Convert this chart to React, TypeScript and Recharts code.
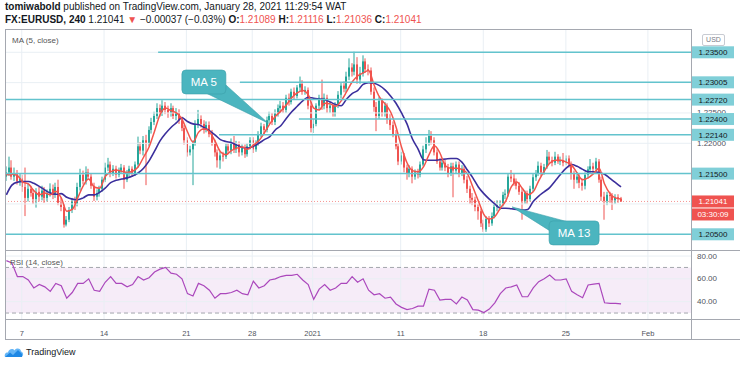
import React from 'react';
import {
  ComposedChart,
  Bar,
  Line,
  XAxis,
  YAxis,
  ReferenceLine,
  ReferenceArea,
  ReferenceDot,
} from 'recharts';

// FX:EURUSD 4h candles, Dec 4 2020 - Jan 28 2021, one entry per bar
const opens = [
  1.2145, 1.2152, 1.2160, 1.2145, 1.2150, 1.2138, 1.2142, 1.2128, 1.2110, 1.2125,
  1.2118, 1.2108, 1.2120, 1.2112, 1.2122, 1.2110, 1.2118, 1.2125, 1.2115, 1.2128,
  1.2102, 1.2095, 1.2066, 1.2074, 1.2090, 1.2104, 1.2100, 1.2128, 1.2148, 1.2138,
  1.2152, 1.2145, 1.2130, 1.2112, 1.2118, 1.2125, 1.2140, 1.2160, 1.2165, 1.2150,
  1.2158, 1.2148, 1.2155, 1.2160, 1.2140, 1.2152, 1.2158, 1.2150, 1.2165, 1.2195,
  1.2188, 1.2205, 1.2200, 1.2222, 1.2235, 1.2245, 1.2258, 1.2250, 1.2262, 1.2255,
  1.2250, 1.2258, 1.2245, 1.2250, 1.2238, 1.2225, 1.2205, 1.2185, 1.2190, 1.2200,
  1.2230, 1.2240, 1.2232, 1.2222, 1.2230, 1.2215, 1.2200, 1.2185, 1.2172, 1.2180,
  1.2178, 1.2195, 1.2188, 1.2200, 1.2190, 1.2198, 1.2185, 1.2192, 1.2182, 1.2195,
  1.2205, 1.2190, 1.2200, 1.2215, 1.2228, 1.2222, 1.2238, 1.2245, 1.2235, 1.2250,
  1.2258, 1.2262, 1.2255, 1.2275, 1.2268, 1.2285, 1.2278, 1.2292, 1.2298, 1.2285,
  1.2288, 1.2262, 1.2225, 1.2232, 1.2262, 1.2275, 1.2262, 1.2275, 1.2258, 1.2262,
  1.2250, 1.2262, 1.2280, 1.2295, 1.2290, 1.2310, 1.2325, 1.2318, 1.2330, 1.2305,
  1.2315, 1.2335, 1.2322, 1.2320, 1.2285, 1.2260, 1.2245, 1.2270, 1.2250, 1.2262,
  1.2240, 1.2230, 1.2215, 1.2195, 1.2170, 1.2180, 1.2160, 1.2150, 1.2158, 1.2145,
  1.2152, 1.2148, 1.2165, 1.2190, 1.2200, 1.2212, 1.2205, 1.2185, 1.2170, 1.2160,
  1.2168, 1.2160, 1.2150, 1.2162, 1.2155, 1.2165, 1.2150, 1.2158, 1.2140, 1.2125,
  1.2110, 1.2107, 1.2095, 1.2088, 1.2068, 1.2058, 1.2075, 1.2068, 1.2080, 1.2095,
  1.2098, 1.2100, 1.2115, 1.2117, 1.2145, 1.2142, 1.2135, 1.2130, 1.2120, 1.2105,
  1.2118, 1.2108, 1.2125, 1.2144, 1.2150, 1.2163, 1.2152, 1.2161, 1.2178, 1.2172,
  1.2168, 1.2178, 1.2170, 1.2172, 1.2168, 1.2175, 1.2165, 1.2150, 1.2140, 1.2145,
  1.2135, 1.2130, 1.2148, 1.2157, 1.2162, 1.2158, 1.2170, 1.2140, 1.2112, 1.2105,
  1.2115, 1.2113, 1.2106, 1.2111, 1.21089,
];
const highs = [
  1.2162, 1.2178, 1.2172, 1.2160, 1.2156, 1.2150, 1.2148, 1.2160, 1.2134, 1.2130,
  1.2124, 1.2126, 1.2128, 1.2130, 1.2128, 1.2124, 1.2134, 1.2132, 1.2135, 1.2140,
  1.2110, 1.2100, 1.2080, 1.2095, 1.2110, 1.2112, 1.2135, 1.2158, 1.2155, 1.2162,
  1.2158, 1.2150, 1.2135, 1.2124, 1.2130, 1.2145, 1.2168, 1.2176, 1.2170, 1.2164,
  1.2163, 1.2160, 1.2166, 1.2164, 1.2156, 1.2163, 1.2162, 1.2170, 1.2211, 1.2202,
  1.2212, 1.2214, 1.2228, 1.2242, 1.2252, 1.2266, 1.2264, 1.2271, 1.2268, 1.2262,
  1.2266, 1.2262, 1.2258, 1.2256, 1.2244, 1.2230, 1.2210, 1.2196, 1.2205, 1.2238,
  1.2255, 1.2246, 1.2238, 1.2236, 1.2236, 1.2222, 1.2206, 1.2190, 1.2186, 1.2186,
  1.2200, 1.2200, 1.2208, 1.2212, 1.2204, 1.2203, 1.2198, 1.2198, 1.2200, 1.2210,
  1.2210, 1.2205, 1.2220, 1.2234, 1.2232, 1.2244, 1.2252, 1.2250, 1.2256, 1.2264,
  1.2270, 1.2268, 1.2280, 1.2282, 1.2290, 1.2292, 1.2296, 1.2310, 1.2304, 1.2294,
  1.2292, 1.2268, 1.2240, 1.2266, 1.2280, 1.2305, 1.2282, 1.2280, 1.2268, 1.2266,
  1.2268, 1.2286, 1.2300, 1.2302, 1.2318, 1.2340, 1.2332, 1.2351, 1.2342, 1.2326,
  1.2345, 1.2340, 1.2330, 1.2325, 1.2292, 1.2268, 1.2276, 1.2274, 1.2268, 1.2266,
  1.2248, 1.2236, 1.2222, 1.2200, 1.2186, 1.2184, 1.2165, 1.2164, 1.2162, 1.2157,
  1.2158, 1.2170, 1.2196, 1.2210, 1.2222, 1.2220, 1.2210, 1.2190, 1.2176, 1.2174,
  1.2174, 1.2166, 1.2168, 1.2168, 1.2170, 1.2170, 1.2164, 1.2162, 1.2146, 1.2130,
  1.2118, 1.2112, 1.2100, 1.2092, 1.2074, 1.2080, 1.2080, 1.2086, 1.2100, 1.2106,
  1.2106, 1.2120, 1.2124, 1.2150, 1.2156, 1.2150, 1.2142, 1.2136, 1.2126, 1.2122,
  1.2122, 1.2130, 1.2150, 1.2156, 1.2170, 1.2168, 1.2166, 1.2189, 1.2186, 1.2178,
  1.2186, 1.2182, 1.2178, 1.2184, 1.2180, 1.2180, 1.2170, 1.2155, 1.2152, 1.2150,
  1.2142, 1.2152, 1.2162, 1.2174, 1.2168, 1.2176, 1.2174, 1.2145, 1.2120, 1.2120,
  1.2120, 1.2118, 1.2116, 1.2116, 1.21116,
];
const lows = [
  1.2138, 1.2146, 1.2140, 1.2138, 1.2132, 1.2130, 1.2120, 1.2080, 1.2104, 1.2112,
  1.2100, 1.2094, 1.2104, 1.2106, 1.2102, 1.2104, 1.2112, 1.2108, 1.2110, 1.2098,
  1.2088, 1.2061, 1.2063, 1.2070, 1.2085, 1.2090, 1.2096, 1.2122, 1.2132, 1.2132,
  1.2140, 1.2125, 1.2105, 1.2106, 1.2112, 1.2120, 1.2136, 1.2154, 1.2144, 1.2146,
  1.2142, 1.2144, 1.2150, 1.2125, 1.2136, 1.2146, 1.2145, 1.2146, 1.2160, 1.2182,
  1.2180, 1.2131, 1.2195, 1.2216, 1.2230, 1.2240, 1.2244, 1.2245, 1.2248, 1.2242,
  1.2244, 1.2240, 1.2238, 1.2232, 1.2220, 1.2198, 1.2178, 1.2180, 1.2131, 1.2196,
  1.2225, 1.2226, 1.2216, 1.2218, 1.2210, 1.2196, 1.2178, 1.2160, 1.2158, 1.2170,
  1.2174, 1.2182, 1.2182, 1.2184, 1.2184, 1.2178, 1.2180, 1.2176, 1.2178, 1.2190,
  1.2184, 1.2186, 1.2196, 1.2210, 1.2216, 1.2218, 1.2232, 1.2230, 1.2230, 1.2244,
  1.2250, 1.2250, 1.2250, 1.2262, 1.2264, 1.2272, 1.2274, 1.2286, 1.2280, 1.2280,
  1.2256, 1.2218, 1.2217, 1.2228, 1.2256, 1.2255, 1.2256, 1.2250, 1.2250, 1.2244,
  1.2244, 1.2258, 1.2274, 1.2284, 1.2284, 1.2304, 1.2310, 1.2312, 1.2298, 1.2298,
  1.2310, 1.2316, 1.2312, 1.2280, 1.2252, 1.2220, 1.2240, 1.2244, 1.2244, 1.2232,
  1.2222, 1.2210, 1.2190, 1.2164, 1.2165, 1.2152, 1.2140, 1.2144, 1.2134, 1.2140,
  1.2142, 1.2144, 1.2162, 1.2184, 1.2196, 1.2198, 1.2180, 1.2166, 1.2155, 1.2155,
  1.2154, 1.2144, 1.2146, 1.2111, 1.2150, 1.2144, 1.2146, 1.2134, 1.2118, 1.2100,
  1.2098, 1.2088, 1.2074, 1.2062, 1.2054, 1.2054, 1.2062, 1.2064, 1.2076, 1.2088,
  1.2090, 1.2096, 1.2108, 1.2112, 1.2136, 1.2130, 1.2124, 1.2115, 1.2074, 1.2100,
  1.2100, 1.2104, 1.2120, 1.2138, 1.2146, 1.2146, 1.2148, 1.2158, 1.2166, 1.2162,
  1.2164, 1.2166, 1.2164, 1.2162, 1.2164, 1.2160, 1.2140, 1.2125, 1.2134, 1.2126,
  1.2122, 1.2124, 1.2142, 1.2150, 1.2150, 1.2154, 1.2135, 1.2105, 1.2074, 1.2098,
  1.2102, 1.2090, 1.2100, 1.2102, 1.21036,
];
const closes = [
  1.2152, 1.2160, 1.2145, 1.2150, 1.2138, 1.2142, 1.2128, 1.2110, 1.2125, 1.2118,
  1.2108, 1.2120, 1.2112, 1.2122, 1.2110, 1.2118, 1.2125, 1.2115, 1.2128, 1.2102,
  1.2095, 1.2066, 1.2074, 1.2090, 1.2104, 1.2100, 1.2128, 1.2148, 1.2138, 1.2152,
  1.2145, 1.2130, 1.2112, 1.2118, 1.2125, 1.2140, 1.2160, 1.2165, 1.2150, 1.2158,
  1.2148, 1.2155, 1.2160, 1.2140, 1.2152, 1.2158, 1.2150, 1.2165, 1.2195, 1.2188,
  1.2205, 1.2200, 1.2222, 1.2235, 1.2245, 1.2258, 1.2250, 1.2262, 1.2255, 1.2250,
  1.2258, 1.2245, 1.2250, 1.2238, 1.2225, 1.2205, 1.2185, 1.2190, 1.2200, 1.2230,
  1.2240, 1.2232, 1.2222, 1.2230, 1.2215, 1.2200, 1.2185, 1.2172, 1.2180, 1.2178,
  1.2195, 1.2188, 1.2200, 1.2190, 1.2198, 1.2185, 1.2192, 1.2182, 1.2195, 1.2205,
  1.2190, 1.2200, 1.2215, 1.2228, 1.2222, 1.2238, 1.2245, 1.2235, 1.2250, 1.2258,
  1.2262, 1.2255, 1.2275, 1.2268, 1.2285, 1.2278, 1.2292, 1.2298, 1.2285, 1.2288,
  1.2262, 1.2225, 1.2232, 1.2262, 1.2275, 1.2262, 1.2275, 1.2258, 1.2262, 1.2250,
  1.2262, 1.2280, 1.2295, 1.2290, 1.2310, 1.2325, 1.2318, 1.2330, 1.2305, 1.2315,
  1.2335, 1.2322, 1.2320, 1.2285, 1.2260, 1.2245, 1.2270, 1.2250, 1.2262, 1.2240,
  1.2230, 1.2215, 1.2195, 1.2170, 1.2180, 1.2160, 1.2150, 1.2158, 1.2145, 1.2152,
  1.2148, 1.2165, 1.2190, 1.2200, 1.2212, 1.2205, 1.2185, 1.2170, 1.2160, 1.2168,
  1.2160, 1.2150, 1.2162, 1.2155, 1.2165, 1.2150, 1.2158, 1.2140, 1.2125, 1.2110,
  1.2107, 1.2095, 1.2088, 1.2068, 1.2058, 1.2075, 1.2068, 1.2080, 1.2095, 1.2098,
  1.2100, 1.2115, 1.2117, 1.2145, 1.2142, 1.2135, 1.2130, 1.2120, 1.2105, 1.2118,
  1.2108, 1.2125, 1.2144, 1.2150, 1.2163, 1.2152, 1.2161, 1.2178, 1.2172, 1.2168,
  1.2178, 1.2170, 1.2172, 1.2168, 1.2175, 1.2165, 1.2150, 1.2140, 1.2145, 1.2135,
  1.2130, 1.2148, 1.2157, 1.2162, 1.2158, 1.2170, 1.2140, 1.2112, 1.2105, 1.2115,
  1.2113, 1.2106, 1.2111, 1.21089, 1.21041,
];

// indicator readings, one value every second bar
const ma5 = [
  1.2148, 1.2149, 1.2147, 1.2136, 1.2133, 1.2122, 1.2115, 1.2118, 1.2115, 1.2121,
  1.2110, 1.2088, 1.2091, 1.2110, 1.2130, 1.2141, 1.2128, 1.2126, 1.2145, 1.2153,
  1.2156, 1.2154, 1.2152, 1.2154, 1.2161, 1.2177, 1.2194, 1.2220, 1.2247, 1.2258,
  1.2254, 1.2250, 1.2240, 1.2219, 1.2202, 1.2218, 1.2224, 1.2219, 1.2204, 1.2186,
  1.2181, 1.2188, 1.2192, 1.2194, 1.2190, 1.2197, 1.2204, 1.2217, 1.2232, 1.2244,
  1.2253, 1.2263, 1.2275, 1.2283, 1.2287, 1.2280, 1.2258, 1.2255, 1.2266, 1.2265,
  1.2261, 1.2270, 1.2285, 1.2301, 1.2311, 1.2316, 1.2320, 1.2296, 1.2276, 1.2265,
  1.2252, 1.2227, 1.2194, 1.2168, 1.2155, 1.2153, 1.2161, 1.2181, 1.2196, 1.2184,
  1.2163, 1.2159, 1.2159, 1.2157, 1.2150, 1.2128, 1.2105, 1.2083, 1.2075, 1.2079,
  1.2093, 1.2105, 1.2128, 1.2136, 1.2126, 1.2115, 1.2120, 1.2138, 1.2154, 1.2167,
  1.2172, 1.2172, 1.2169, 1.2164, 1.2151, 1.2140, 1.2143, 1.2150, 1.2159, 1.2133,
  1.2117, 1.2110, 1.2108,
];
const ma13 = [
  1.2115, 1.2131, 1.2136, 1.2137, 1.2137, 1.2134, 1.2129, 1.2123, 1.2118, 1.2116,
  1.2117, 1.2111, 1.2108, 1.2107, 1.2110, 1.2115, 1.2115, 1.2119, 1.2126, 1.2135,
  1.2139, 1.2141, 1.2143, 1.2146, 1.2151, 1.2159, 1.2171, 1.2187, 1.2204, 1.2216,
  1.2226, 1.2234, 1.2242, 1.2236, 1.2232, 1.2231, 1.2226, 1.2221, 1.2214, 1.2206,
  1.2203, 1.2201, 1.2197, 1.2193, 1.2192, 1.2195, 1.2200, 1.2206, 1.2211, 1.2222,
  1.2229, 1.2241, 1.2252, 1.2261, 1.2270, 1.2276, 1.2274, 1.2273, 1.2272, 1.2268,
  1.2264, 1.2262, 1.2273, 1.2282, 1.2287, 1.2297, 1.2300, 1.2299, 1.2295, 1.2288,
  1.2278, 1.2266, 1.2250, 1.2232, 1.2207, 1.2191, 1.2173, 1.2172, 1.2172, 1.2173,
  1.2174, 1.2175, 1.2175, 1.2169, 1.2156, 1.2143, 1.2128, 1.2117, 1.2108, 1.2100,
  1.2093, 1.2093, 1.2092, 1.2091, 1.2090, 1.2091, 1.2104, 1.2113, 1.2120, 1.2127,
  1.2138, 1.2149, 1.2159, 1.2165, 1.2162, 1.2157, 1.2153, 1.2153, 1.2152, 1.2149,
  1.2142, 1.2135, 1.2128,
];
const rsi14 = [
  76, 74, 62, 62, 59, 52, 55, 53, 49, 56,
  54, 43, 48, 56, 56, 60, 50, 49, 57, 62,
  56, 56, 53, 55, 62, 59, 61, 66, 68.5, 70,
  65, 64, 60, 47, 45, 56, 54, 50, 43, 47,
  47, 48, 50, 47, 46, 58, 52, 54, 59, 60,
  62, 63, 63, 64, 59, 55, 42, 51, 55, 50,
  52, 56, 56, 62, 57, 60, 50, 46, 47, 43,
  44, 38, 35, 33, 34, 36, 36, 51, 50, 41.4,
  42, 42, 38, 44, 41.5, 33, 32.6, 30.5, 33.5, 39,
  47, 52, 53, 54.6, 44.3, 44.3, 52, 57.5, 60, 63.3,
  59, 59, 60, 49, 46, 43.4, 54.6, 55.3, 56, 39,
  38.5, 38.5, 38,
];

// time axis: bar position where each label's day starts
const dateTicks = [6.1, 36.1, 66.1, 90.1, 112.1, 144.2, 174.3, 204.4, 234.3];
const dateLabels = ['7', '14', '21', '28', '2021', '11', '18', '25', 'Feb'];

const priceTicks = [1.205, 1.21, 1.215, 1.22, 1.225, 1.23, 1.235];
const levelPrices = [1.235, 1.23005, 1.2272, 1.224, 1.2214, 1.215, 1.205];
const levelFrom = [55.8, 85.6, 0, 107.1, 78, 0, 0];
const rsiTicks = [40, 60, 80];

const lastPrice = 1.21041;
const countdown = '03:30:09';

const rows = closes.map((c, i) => ({
  t: i + 0.5,
  open: opens[i],
  high: highs[i],
  low: lows[i],
  close: c,
  range: [lows[i], highs[i]],
  ma5: i % 2 === 0 ? ma5[i / 2] : null,
  ma13: i % 2 === 0 ? ma13[i / 2] : null,
  rsi: i % 2 === 0 ? rsi14[i / 2] : null,
}));

// grey scale labels that sit under a coloured price tag are not visible in TradingView
const tagged = [...levelPrices, lastPrice];
const visibleTick = (p: number) => !tagged.some((q) => Math.abs(q - p) < 0.0008);

const UP = '#26a69a';
const DOWN = '#ef5350';
const GRID = '#e9eff4';
const LEVEL = '#63c3cd';
const TAG = '#80cfd8';
const FRAME = '#a5a8b0';
const CALLOUT = '#4bb5bf';
const AXIS_TEXT = '#50535e';

function Candle(props: any) {
  const { x, y, width, height } = props;
  const d = props.payload || props;
  if (d == null || d.high == null) return null;
  const top = Math.min(y, y + height);
  const h = Math.abs(height);
  const span = d.high - d.low || 1e-9;
  const py = (v: number) => top + ((d.high - v) / span) * h;
  const color = d.close >= d.open ? UP : DOWN;
  const bx = Math.round(x + width / 2 - 1);
  const b1 = py(Math.max(d.open, d.close));
  const b2 = py(Math.min(d.open, d.close));
  return (
    <g>
      <line x1={bx + 1} x2={bx + 1} y1={top} y2={top + h} stroke={color} strokeWidth={1} />
      <rect x={bx} y={b1} width={2} height={Math.max(1, b2 - b1)} fill={color} />
    </g>
  );
}

function AxisText(props: any) {
  const { viewBox, text } = props;
  if (!viewBox) return null;
  return (
    <text
      x={viewBox.x + viewBox.width + 6}
      y={viewBox.y}
      dominantBaseline="central"
      fontSize={8}
      fill={AXIS_TEXT}
    >
      {text}
    </text>
  );
}

function PriceTag(props: any) {
  const { viewBox, text, bg, color, sub } = props;
  if (!viewBox) return null;
  const right = viewBox.x + viewBox.width;
  const y = viewBox.y;
  return (
    <g>
      <rect x={right + 1} y={y - 6} width={42} height={12} fill={bg} />
      <text x={right + 22} y={y + 0.5} textAnchor="middle" dominantBaseline="central" fontSize={8} fill={color}>
        {text}
      </text>
      {sub && (
        <>
          <rect x={right + 1} y={y + 7} width={42} height={12} fill={bg} />
          <text x={right + 22} y={y + 13.5} textAnchor="middle" dominantBaseline="central" fontSize={8} fill={color}>
            {sub}
          </text>
        </>
      )}
    </g>
  );
}

function Callout(props: any) {
  const { cx, cy, text, box, wedge } = props;
  if (cx == null || cy == null) return null;
  const [bx, by, bw, bh] = box;
  const pts = wedge.map((p: number[]) => `${cx + p[0]},${cy + p[1]}`).join(' ');
  return (
    <g>
      <polygon points={pts} fill={CALLOUT} stroke="#3a9fa9" strokeWidth={0.6} />
      <rect x={cx + bx} y={cy + by} width={bw} height={bh} rx={4} fill={CALLOUT} stroke="#3a9fa9" strokeWidth={0.6} />
      <text
        x={cx + bx + bw / 2}
        y={cy + by + bh / 2 + 0.5}
        textAnchor="middle"
        dominantBaseline="central"
        fontSize={11.5}
        fill="#ffffff"
      >
        {text}
      </text>
    </g>
  );
}

function DateTick(props: any) {
  const { x, y, payload } = props;
  const idx = dateTicks.indexOf(payload.value);
  return (
    <text x={x} y={y + 11} textAnchor="middle" dominantBaseline="central" fontSize={7.5} fill={AXIS_TEXT}>
      {dateLabels[idx]}
    </text>
  );
}

function Logo() {
  return (
    <svg width={20} height={12} viewBox="0 0 20 12">
      <path d="M1 11 C0 8 2 6 4 6.5 C4.5 3 9 2 10.5 4.5 C12 1.5 17 2 17 5.5 C19.5 6 20 10 17.5 11 Z" fill="#64b5f6" />
      <path d="M1 11 L6 6.5 L9 9 L14 4 L18 8 L18 11 Z" fill="#1e88e5" />
    </svg>
  );
}

const line = (style: React.CSSProperties) => (
  <div style={{ position: 'absolute', background: FRAME, ...style }} />
);

export default function App() {
  const red = { color: DOWN };
  return (
    <div
      style={{
        position: 'fixed',
        left: 0,
        top: 0,
        width: 740,
        height: 365,
        background: '#ffffff',
        overflow: 'hidden',
        fontFamily: "'Liberation Sans', Arial, sans-serif",
        color: '#131722',
      }}
    >
      <div style={{ position: 'absolute', left: 5, top: 0, fontSize: 10, lineHeight: '13px', whiteSpace: 'nowrap' }}>
        <div>
          <b>tomiwabold</b> published on TradingView.com, January 28, 2021 11:29:54 WAT
        </div>
        <div>
          <b>FX:EURUSD, 240</b> 1.21041 <span style={red}>▼</span> −0.00037 (−0.03%) <b>O:</b>
          <span style={red}>1.21089</span> <b>H:</b>
          <span style={red}>1.21116</span> <b>L:</b>
          <span style={red}>1.21036</span> <b>C:</b>
          <span style={red}>1.21041</span>
        </div>
      </div>

      <div style={{ position: 'absolute', left: 0, top: 0 }}>
        <ComposedChart width={740} height={250} data={rows} margin={{ top: 29, right: 49, bottom: 0, left: 5 }}>
          <XAxis dataKey="t" type="number" domain={[0, 250]} hide allowDataOverflow />
          <YAxis type="number" domain={[1.20241, 1.23884]} hide allowDataOverflow />
          {dateTicks.map((t) => (
            <ReferenceLine key={'v' + t} x={t} stroke={GRID} />
          ))}
          {priceTicks.map((p) => (
            <ReferenceLine
              key={'h' + p}
              y={p}
              stroke={GRID}
              label={visibleTick(p) ? <AxisText text={p.toFixed(5)} /> : undefined}
            />
          ))}
          <ReferenceLine y={lastPrice} stroke={DOWN} strokeOpacity={0.6} strokeDasharray="1 2" />
          <Bar dataKey="range" shape={<Candle />} barSize={2} isAnimationActive={false} />
          <Line
            dataKey="ma13"
            type="monotone"
            stroke="#3b2f9c"
            strokeWidth={1.6}
            dot={false}
            connectNulls
            isAnimationActive={false}
          />
          <Line
            dataKey="ma5"
            type="monotone"
            stroke="#f2544b"
            strokeWidth={1.5}
            dot={false}
            connectNulls
            isAnimationActive={false}
          />
          {levelPrices.map((p, i) => (
            <ReferenceLine
              key={'l' + p}
              segment={[
                { x: levelFrom[i], y: p },
                { x: 250, y: p },
              ]}
              stroke={LEVEL}
              strokeWidth={1.5}
              label={<PriceTag text={p.toFixed(5)} bg={TAG} color="#131722" />}
            />
          ))}
          <ReferenceLine
            y={lastPrice}
            stroke="none"
            label={<PriceTag text={lastPrice.toFixed(5)} bg={DOWN} color="#ffffff" sub={countdown} />}
          />
          <ReferenceDot
            x={95.8}
            y={1.22335}
            r={1}
            shape={(p: any) => (
              <Callout {...p} text="MA 5" box={[-86, -53, 44, 24]} wedge={[[-62, -30], [-42, -38], [0, 0]]} />
            )}
          />
          <ReferenceDot
            x={184.8}
            y={1.20951}
            r={1}
            shape={(p: any) => (
              <Callout {...p} text="MA 13" box={[37, 14, 50, 24]} wedge={[[0, 0], [38, 24], [56, 15]]} />
            )}
          />
        </ComposedChart>
      </div>

      <div style={{ position: 'absolute', left: 0, top: 250 }}>
        <ComposedChart width={740} height={90} data={rows} margin={{ top: 0, right: 49, bottom: 0, left: 5 }}>
          <XAxis
            dataKey="t"
            type="number"
            domain={[0, 250]}
            ticks={dateTicks}
            interval={0}
            height={20}
            axisLine={false}
            tickLine={false}
            tickSize={0}
            tick={<DateTick />}
            allowDataOverflow
          />
          <YAxis type="number" domain={[23.9, 85.3]} hide allowDataOverflow />
          <ReferenceArea y1={30} y2={70} fill="#9c27b0" fillOpacity={0.09} stroke="none" />
          {dateTicks.map((t) => (
            <ReferenceLine key={'rv' + t} x={t} stroke={GRID} />
          ))}
          {rsiTicks.map((v) => (
            <ReferenceLine key={'rh' + v} y={v} stroke={GRID} label={<AxisText text={v.toFixed(2)} />} />
          ))}
          <ReferenceLine y={70} stroke="#a3a6ad" strokeDasharray="4 3" />
          <ReferenceLine y={30} stroke="#a3a6ad" strokeDasharray="4 3" />
          <Line
            dataKey="rsi"
            stroke="#ab47bc"
            strokeWidth={1.2}
            dot={false}
            connectNulls
            isAnimationActive={false}
          />
        </ComposedChart>
      </div>

      <div style={{ position: 'absolute', left: 12, top: 36, fontSize: 8, color: '#555' }}>MA (5, close)</div>
      <div style={{ position: 'absolute', left: 10, top: 258, fontSize: 8, color: '#555' }}>RSI (14, close)</div>
      <div
        style={{
          position: 'absolute',
          left: 702,
          top: 34,
          width: 21,
          height: 10,
          border: '1px solid #c8cbd2',
          borderRadius: 2,
          background: '#fff',
          fontSize: 7,
          lineHeight: '10px',
          textAlign: 'center',
          color: '#787b86',
        }}
      >
        USD
      </div>

      {line({ left: 5, top: 29, width: 686, height: 1 })}
      {line({ left: 5, top: 29, width: 1, height: 311 })}
      {line({ left: 691, top: 29, width: 1, height: 311 })}
      {line({ left: 5, top: 250, width: 735, height: 1 })}
      {line({ left: 5, top: 319, width: 735, height: 1 })}
      {line({ left: 5, top: 339, width: 735, height: 1 })}

      <div style={{ position: 'absolute', left: 4, top: 346, display: 'flex', alignItems: 'center', gap: 2 }}>
        <Logo />
        <span style={{ fontSize: 9, color: '#131722' }}>TradingView</span>
      </div>
    </div>
  );
}
